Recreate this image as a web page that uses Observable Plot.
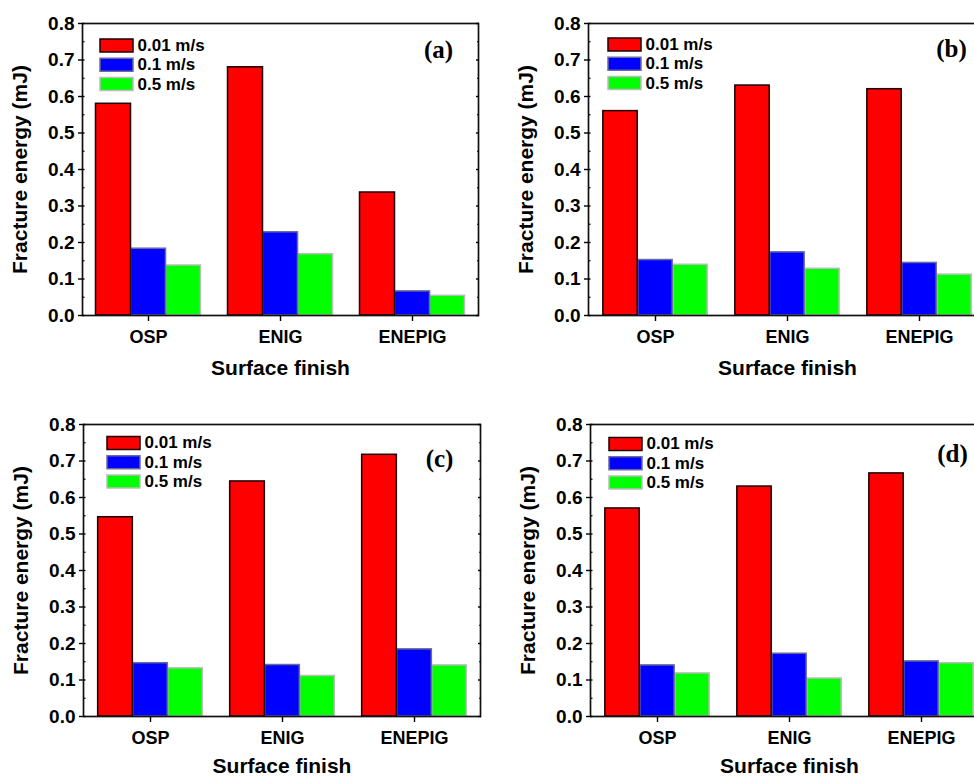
<!DOCTYPE html>
<html><head><meta charset="utf-8">
<script src="https://cdn.jsdelivr.net/npm/d3@7"></script>
<script src="https://cdn.jsdelivr.net/npm/@observablehq/plot@0.6"></script>
<style>
html,body{margin:0;padding:0;background:#fff;}
#wrap{position:relative;width:974px;height:776px;overflow:hidden;background:#fff;}
.panel{position:absolute;}
</style></head><body><div id="wrap"></div>
<script>
// ---- data ----
const categories = ["OSP", "ENIG", "ENEPIG"];
const speeds = ["0.01 m/s", "0.1 m/s", "0.5 m/s"];
const yTicks = [0, 0.1, 0.2, 0.3, 0.4, 0.5, 0.6, 0.7, 0.8];
const yMinorTicks = [0.05, 0.15, 0.25, 0.35, 0.45, 0.55, 0.65, 0.75];
const panelLabels = ["(a)", "(b)", "(c)", "(d)"];
const xTitle = "Surface finish";
const yTitle = "Fracture energy (mJ)";

// panel (a)
const a_001 = [0.58, 0.68, 0.337];
const a_01  = [0.183, 0.228, 0.066];
const a_05  = [0.137, 0.168, 0.054];
// panel (b)
const b_001 = [0.56, 0.63, 0.62];
const b_01  = [0.152, 0.173, 0.144];
const b_05  = [0.139, 0.128, 0.112];
// panel (c)
const c_001 = [0.546, 0.644, 0.717];
const c_01  = [0.146, 0.141, 0.184];
const c_05  = [0.132, 0.111, 0.14];
// panel (d)
const d_001 = [0.57, 0.63, 0.666];
const d_01  = [0.14, 0.172, 0.151];
const d_05  = [0.118, 0.104, 0.146];

// ---- styles ----
const fills = ["#ff0000", "#0000ff", "#00ff00"];
const outlines = ["#1a0000", "#6a6a9c", "#bcbcbc"];

const layouts = [
  {left: 0,   top: 0,   width: 487, legDx: 34, legDy: 22,   labDx: -40, labDy: 26, xLabOff: 59},
  {left: 506, top: 0,   width: 489, legDx: 36, legDy: 21,   labDx: -35, labDy: 25, xLabOff: 59},
  {left: 1,   top: 401, width: 488, legDx: 40, legDy: 18.5, labDx: -41, labDy: 34, xLabOff: 56},
  {left: 508, top: 401, width: 489, legDx: 35, legDy: 19.5, labDx: -36, labDy: 29, xLabOff: 56}
];
const panelValues = [
  [a_001, a_01, a_05],
  [b_001, b_01, b_05],
  [c_001, c_01, c_05],
  [d_001, d_01, d_05]
];

const mL = 82, mR = 9, mT = 23, mB = 73, H = 388;
const barW = 35;
const legStep = 19.3;
const swatch = {draw(ctx) { ctx.rect(-16.5, -6.5, 33, 13); }};

function makePanel(vals, label, L) {
  const rows = [];
  speeds.forEach((s, i) => categories.forEach((c, j) => rows.push({category: c, speed: s, value: vals[i][j]})));
  const band = (L.width - mL - mR) / categories.length;
  const gap = (band - speeds.length * barW) / 2;
  const bars = [2, 1, 0].map(i => Plot.barY(rows.filter(d => d.speed === speeds[i]), {
    x: "category", y: "value", fill: "speed",
    stroke: outlines[i], strokeWidth: 1.5,
    insetLeft: gap + i * barW, insetRight: gap + (speeds.length - 1 - i) * barW
  }));
  const legend = speeds.flatMap((s, i) => [
    Plot.dot([s], {frameAnchor: "top-left", dx: L.legDx, dy: L.legDy + i * legStep, symbol: swatch,
      fill: d => d, stroke: outlines[i], strokeWidth: 1.5}),
    Plot.text([s], {frameAnchor: "top-left", dx: L.legDx + 21, dy: L.legDy + i * legStep, text: d => d,
      textAnchor: "start", lineAnchor: "middle", fontSize: 17})
  ]);
  return Plot.plot({
    width: L.width, height: H,
    marginLeft: mL, marginRight: mR, marginTop: mT, marginBottom: mB,
    style: {fontFamily: "'Liberation Sans', Arial, sans-serif", fontWeight: "bold", background: "transparent", color: "#000", overflow: "visible"},
    x: {domain: categories, padding: 0},
    y: {domain: [0, 0.8]},
    color: {domain: speeds, range: fills},
    marks: [
      ...bars,
      Plot.frame({stroke: "#111", strokeWidth: 1.7}),
      Plot.axisY({anchor: "left", ticks: yTicks, tickSize: 4, tickPadding: 4, tickFormat: d3.format(".1f"), fontSize: 19, label: null, strokeWidth: 1.4}),
      Plot.axisY({anchor: "left", ticks: yTicks, tickSize: -2.5, fill: "none", label: null, strokeWidth: 1.4}),
      Plot.axisY({anchor: "left", ticks: yMinorTicks, tickSize: -2.5, fill: "none", label: null, strokeWidth: 1.2}),
      Plot.axisY({anchor: "right", ticks: yTicks, tickSize: -3, fill: "none", label: null, strokeWidth: 1.4}),
      Plot.axisY({anchor: "right", ticks: yMinorTicks, tickSize: -2, fill: "none", label: null, strokeWidth: 1.2}),
      Plot.axisY({anchor: "left", ticks: [], tickSize: 0, label: yTitle, labelAnchor: "center", labelArrow: "none", labelOffset: 70, fontSize: 21}),
      Plot.axisX({anchor: "bottom", tickSize: 6, tickPadding: 9, fontSize: 18, label: null, strokeWidth: 1.4}),
      Plot.axisX({anchor: "bottom", ticks: [], tickSize: 0, label: xTitle, labelAnchor: "center", labelArrow: "none", labelOffset: L.xLabOff, fontSize: 21}),
      ...legend,
      Plot.text([label], {frameAnchor: "top-right", dx: L.labDx, dy: L.labDy, text: d => d, textAnchor: "middle", lineAnchor: "middle",
        fontFamily: "'Liberation Serif', 'Times New Roman', serif", fontWeight: "bold", fontSize: 25})
    ]
  });
}

const wrap = document.getElementById("wrap");
layouts.forEach((L, k) => {
  const svg = makePanel(panelValues[k], panelLabels[k], L);
  svg.classList.add("panel");
  svg.style.left = L.left + "px";
  svg.style.top = L.top + "px";
  wrap.appendChild(svg);
});
</script>
</body></html>
